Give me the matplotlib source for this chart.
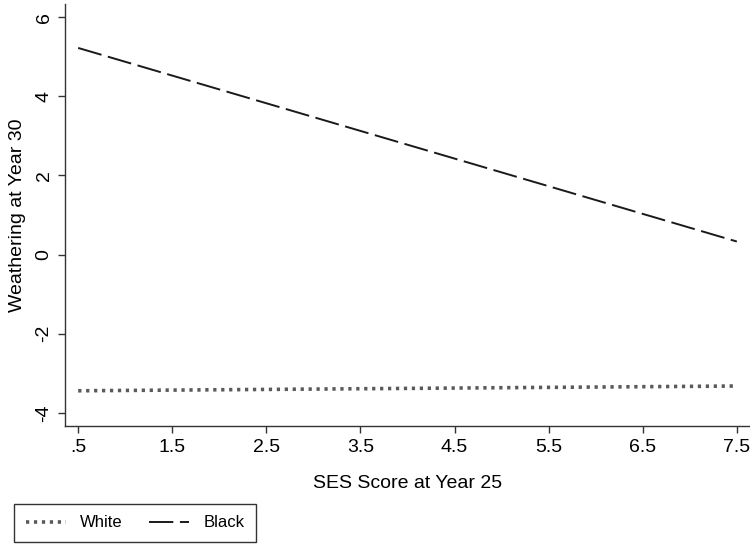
import matplotlib
matplotlib.use("Agg")
import matplotlib.pyplot as plt
import numpy as np

ses = [0.5, 7.5]
white = [-3.44, -3.32]
black = [5.22, 0.33]
xticks = [0.5, 1.5, 2.5, 3.5, 4.5, 5.5, 6.5, 7.5]
xticklabels = [".5", "1.5", "2.5", "3.5", "4.5", "5.5", "6.5", "7.5"]
yticks = [-4, -2, 0, 2, 4, 6]

plt.rcParams['font.family'] = ['Liberation Sans', 'DejaVu Sans']

fig = plt.figure(figsize=(7.5, 5.46), dpi=100)
ax = fig.add_axes([65/750, 1-426/546, 1-65/750, (426-4)/546])

lw_d = 2.6
ax.plot(ses, white, color="#5a5a5a", lw=lw_d, dashes=(0.9, 1.3), dash_capstyle='butt', label="White")
lw_b = 1.4
ax.plot(ses, black, color="#1a1a1a", lw=lw_b, dashes=(12.5, 3.4), label="Black")

ax.set_xlim(0.36, 7.64)
ax.set_ylim(-4.33, 6.33)
ax.set_xticks(xticks)
ax.set_xticklabels(xticklabels)
ax.set_yticks(yticks)
ax.set_yticklabels([str(v) for v in yticks], rotation=90, va='center')
for s in ['top', 'right']:
    ax.spines[s].set_visible(False)
for s in ['left', 'bottom']:
    ax.spines[s].set_color("#333333")
    ax.spines[s].set_linewidth(1.0)
ax.tick_params(axis='both', direction='out', length=5, width=1.0, color="#333333", labelsize=14, pad=4)
ax.set_xlabel("SES Score at Year 25", fontsize=14, labelpad=14)
ax.set_ylabel("Weathering at Year 30", fontsize=14, labelpad=7)

leg = fig.legend(loc='lower left', bbox_to_anchor=(14/750, 1-542/546), ncol=2, fontsize=12,
                 frameon=True, fancybox=False, edgecolor="#333333", framealpha=1,
                 handlelength=2.4, columnspacing=1.6, handletextpad=0.85, borderpad=0.7,
                 borderaxespad=0)
leg.get_frame().set_linewidth(1.0)

fig.savefig("out.png", dpi=100, facecolor="white")
